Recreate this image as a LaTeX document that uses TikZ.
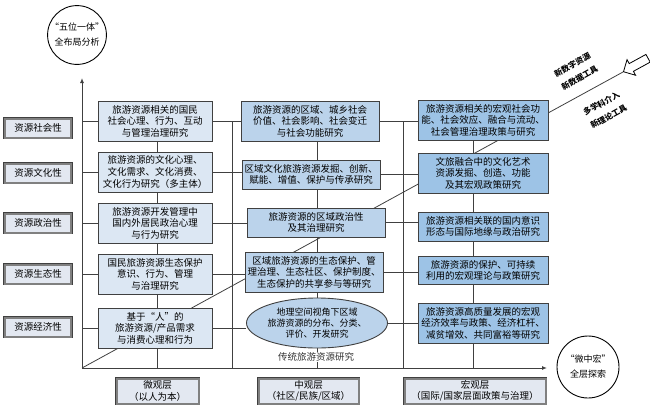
\documentclass[tikz,border=0pt]{standalone}
\usepackage{fontspec}
\setmainfont{Noto Sans CJK SC}
\usetikzlibrary{shapes.arrows, shapes.geometric, arrows.meta, backgrounds}
\definecolor{microfill}{HTML}{DCE7F3}
\definecolor{mesofill}{HTML}{BBD3EB}
\definecolor{macrofill}{HTML}{9DC3E6}
\definecolor{tagfill}{HTML}{E3E8F1}
\definecolor{linegray}{HTML}{404040}

\begin{document}
\begin{tikzpicture}[x=1pt, y=-1pt,
    box/.style={draw=linegray, line width=0.9pt, align=center, inner sep=1pt,
        font=\fontsize{9.5}{11.6}\selectfont},
    micro/.style={box, fill=microfill, minimum width=114pt, minimum height=40pt},
    meso/.style={box, fill=mesofill, minimum width=138pt},
    macro/.style={box, fill=macrofill, minimum width=130pt},
    tag/.style={fill=tagfill, draw=gray, line width=2pt,
        preaction={draw=black!75, line width=3.2pt}, align=center, inner sep=1pt,
        font=\fontsize{9.5}{11.6}\selectfont},
    ring/.style={circle, draw=black, line width=0.9pt, align=center, inner sep=0pt,
        font=\fontsize{9}{11}\selectfont},
    note/.style={align=center, inner sep=0pt, font=\fontsize{8}{15}\selectfont\bfseries},
    link/.style={draw=linegray, line width=0.8pt},
    axis/.style={draw=linegray, line width=1pt, -{Latex[length=5pt, width=4pt]}}]
    \useasboundingbox (0,0) rectangle (650,410);

    \coordinate (o) at (82,368);
    \coordinate (ytop) at (82,78);
    \coordinate (xend) at (547,368);
    \coordinate (tip) at (623,72);
    \coordinate (p1) at (232,121);
    \coordinate (p2) at (403,122);
    \coordinate (ka) at (157,0);
    \coordinate (kb) at (317,0);
    \coordinate (kc) at (473,0);

    % left tags
    \node[tag, minimum width=66pt, minimum height=19pt] (s1) at (38,128) {资源社会性};
    \node[tag, minimum width=66pt, minimum height=19pt] (s2) at (38,173) {资源文化性};
    \node[tag, minimum width=66pt, minimum height=19pt] (s3) at (38,223) {资源政治性};
    \node[tag, minimum width=66pt, minimum height=19pt] (s4) at (38,274) {资源生态性};
    \node[tag, minimum width=66pt, minimum height=19pt] (s5) at (38,327) {资源经济性};

    % micro column
    \node[micro] (a1) at (155,121) {旅游资源相关的国民\\社会心理、行为、互动\\与管理治理研究};
    \node[micro] (a2) at (155,172) {旅游资源的文化心理、\\文化需求、文化消费、\\文化行为研究（多主体）};
    \node[micro] (a3) at (155,223) {旅游资源开发管理中\\国内外居民政治心理\\与行为研究};
    \node[micro] (a4) at (155,274) {国民旅游资源生态保护\\意识、行为、管理\\与治理研究};
    \node[micro] (a5) at (155,328) {基于“人”的\\旅游资源/产品需求\\与消费心理和行为};

    % meso column
    \node[meso, minimum height=40pt] (b1) at (310,121) {旅游资源的区域、城乡社会\\价值、社会影响、社会变迁\\与社会功能研究};
    \node[meso, minimum height=29pt] (b2) at (311,174.5) {区域文化旅游资源发掘、创新、\\赋能、增值、保护与传承研究};
    \node[meso, minimum height=29pt] (b3) at (316,222.5) {旅游资源的区域政治性\\及其治理研究};
    \node[meso, minimum height=40pt] (b4) at (314,272) {区域旅游资源的生态保护、管\\理治理、生态社区、保护制度、\\生态保护的共享参与等研究};
    \node[box, ellipse, fill=mesofill, inner sep=0pt, minimum width=141pt, minimum height=50pt,
        font=\fontsize{9}{11.4}\selectfont] (b5) at (317,323) {地理空间视角下区域\\旅游资源的分布、分类、\\评价、开发研究};
    \node[fill=white, inner sep=1pt, text=black!80, font=\fontsize{9.5}{11}\selectfont] (t1) at (316,357) {传统旅游资源研究};

    % macro column
    \node[macro, minimum height=40pt] (c1) at (483,120) {旅游资源相关的宏观社会功\\能、社会效应、融合与流动、\\社会管理治理政策与研究};
    \node[macro, minimum height=40pt] (c2) at (483,173) {文旅融合中的文化艺术\\资源发掘、创造、功能\\及其宏观政策研究};
    \node[macro, minimum height=29pt] (c3) at (483,226.5) {旅游资源相关联的国内意识\\形态与国际地缘与政治研究};
    \node[macro, minimum height=28pt] (c4) at (483,270.5) {旅游资源的保护、可持续\\利用的宏观理论与政策研究};
    \node[macro, minimum height=40pt] (c5) at (483,323) {旅游资源高质量发展的宏观\\经济效率与政策、经济杠杆、\\减贫增效、共同富裕等研究};

    % bottom tags
    \node[tag, minimum width=82pt, minimum height=25pt] (m1) at (157.5,391) {微观层\\（以人为本）};
    \node[tag, minimum width=100pt, minimum height=25pt] (m2) at (308.5,391) {中观层\\（社区/民族/区域）};
    \node[tag, minimum width=141pt, minimum height=25pt] (m3) at (475,391) {宏观层\\（国际/国家层面政策与治理）};

    % circles
    \node[ring, minimum size=56pt] (o1) at (77,35) {“五位一体”\\[4pt]全布局分析};
    \node[ring, minimum size=62pt] (o2) at (588,367) {“微中宏”\\[4pt]全层探索};

    % arrow and its notes
    \node[single arrow, draw=black, line width=0.8pt, fill=white, inner sep=4pt,
        single arrow head extend=4.5pt, minimum height=28pt, anchor=tip, rotate=208.7] (ar) at (tip) {};
    \node[note, rotate=28.7] (n1) at (576,71.5) {新数字资源\\新数据工具};
    \node[note, rotate=28.7] (n2) at (605,110) {多学科介入\\新理论工具};

    \begin{scope}[on background layer]
        \draw[link] (o) -- (tip);
        \draw[axis] (o) -- (ytop);
        \draw[axis] (o) -- (xend);
        \draw[link] (p1) -- (p1 |- o);
        \draw[link] (p2) -- (p2 |- o);
        \foreach \i in {1,...,5} {
            \draw[link] (o |- a\i.west) -- (a\i.west);
            \draw[link] (a\i.east) -- (a\i.east -| b\i.west);
            \draw[link] (b\i.east) -- (b\i.east -| c\i.west);
        }
        \foreach \i/\j in {1/2, 2/3, 3/4, 4/5} {
            \draw[link] (a\i.south -| ka) -- (a\j.north -| ka);
            \draw[link] (b\i.south -| kb) -- (b\j.north -| kb);
            \draw[link] (c\i.south -| kc) -- (c\j.north -| kc);
        }
        \draw[link] (a5.south -| ka) -- (o -| ka);
        \draw[link] (b5.south -| kb) -- (o -| kb);
        \draw[link] (c5.south -| kc) -- (o -| kc);
    \end{scope}
\end{tikzpicture}
\end{document}
